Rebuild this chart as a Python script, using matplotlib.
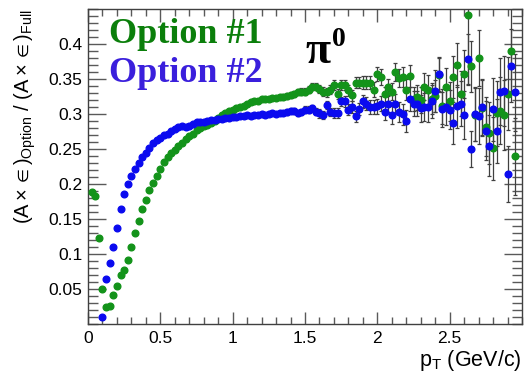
import numpy as np
import matplotlib
matplotlib.use("Agg")
import matplotlib.pyplot as plt
from matplotlib.ticker import MultipleLocator

# bin centres of the pT histogram (0.025 GeV/c wide bins)
pt = np.arange(1, 119) * 0.025

# Option #1 (green), bins 1..118
opt1 = [0.189, 0.183, 0.123, 0.050, 0.024, 0.026, 0.041, 0.054, 0.070, 0.077,
        0.091, 0.110, 0.130, 0.147, 0.164, 0.177, 0.191, 0.201, 0.212, 0.222,
        0.231, 0.238, 0.244, 0.249, 0.255, 0.259, 0.264, 0.268, 0.272, 0.277,
        0.280, 0.283, 0.284, 0.287, 0.290, 0.295, 0.298, 0.301, 0.304, 0.306,
        0.308, 0.310, 0.312, 0.314, 0.317, 0.319, 0.319, 0.321, 0.321, 0.322,
        0.323, 0.323, 0.324, 0.325, 0.326, 0.327, 0.329, 0.332, 0.332, 0.332,
        0.335, 0.339, 0.339, 0.336, 0.332, 0.331, 0.335, 0.341, 0.329, 0.341,
        0.341, 0.334, 0.327, 0.345, 0.345, 0.345, 0.345, 0.345, 0.335, 0.357,
        0.353, 0.328, 0.338, 0.332, 0.360, 0.351, 0.353, 0.335, 0.354, 0.322,
        0.324, 0.320, 0.339, 0.335, 0.322, 0.326, 0.356, 0.311, 0.339, 0.318,
        0.353, 0.370, 0.329, 0.357, 0.442, 0.368, 0.299, 0.380, 0.308, 0.282,
        0.273, 0.251, 0.301, 0.305, 0.299, 0.329, 0.390, 0.240]
err1 = [0.002, 0.002, 0.002, 0.001, 0.001, 0.001, 0.001, 0.001, 0.001, 0.001,
        0.001, 0.001, 0.001, 0.001, 0.001, 0.001, 0.001, 0.001, 0.001, 0.001,
        0.001, 0.001, 0.001, 0.001, 0.001, 0.001, 0.001, 0.001, 0.001, 0.001,
        0.001, 0.001, 0.001, 0.001, 0.001, 0.001, 0.001, 0.001, 0.001, 0.002,
        0.002, 0.002, 0.002, 0.002, 0.002, 0.002, 0.003, 0.003, 0.003, 0.003,
        0.003, 0.003, 0.003, 0.004, 0.004, 0.004, 0.004, 0.004, 0.005, 0.005,
        0.005, 0.005, 0.005, 0.006, 0.006, 0.006, 0.006, 0.007, 0.007, 0.007,
        0.007, 0.008, 0.008, 0.008, 0.008, 0.009, 0.009, 0.009, 0.010, 0.010,
        0.011, 0.011, 0.012, 0.012, 0.013, 0.013, 0.014, 0.015, 0.016, 0.017,
        0.018, 0.018, 0.019, 0.020, 0.022, 0.023, 0.024, 0.025, 0.026, 0.028,
        0.030, 0.031, 0.032, 0.034, 0.100, 0.036, 0.038, 0.040, 0.040, 0.042,
        0.044, 0.045, 0.046, 0.048, 0.050, 0.052, 0.060, 0.055]

# Option #2 (blue), bins 4..118
opt2 = [0.010, 0.064, 0.087, 0.110, 0.137, 0.164, 0.186, 0.200, 0.212, 0.222,
        0.230, 0.239, 0.245, 0.252, 0.258, 0.263, 0.266, 0.270, 0.272, 0.275,
        0.278, 0.281, 0.283, 0.282, 0.283, 0.286, 0.288, 0.288, 0.289, 0.290,
        0.291, 0.292, 0.293, 0.293, 0.294, 0.295, 0.296, 0.296, 0.297, 0.297,
        0.298, 0.297, 0.298, 0.299, 0.300, 0.299, 0.300, 0.301, 0.300, 0.302,
        0.302, 0.303, 0.305, 0.304, 0.301, 0.303, 0.306, 0.306, 0.308, 0.303,
        0.301, 0.299, 0.313, 0.303, 0.301, 0.301, 0.318, 0.318, 0.306, 0.310,
        0.297, 0.307, 0.318, 0.315, 0.310, 0.310, 0.311, 0.315, 0.303, 0.315,
        0.299, 0.315, 0.303, 0.300, 0.290, 0.322, 0.315, 0.315, 0.308, 0.310,
        0.310, 0.318, 0.333, 0.357, 0.307, 0.310, 0.306, 0.287, 0.311, 0.315,
        0.299, 0.379, 0.250, 0.300, 0.297, 0.310, 0.276, 0.255, 0.307, 0.276,
        0.332, 0.333, 0.214, 0.369, 0.331]
err2 = [0.001, 0.001, 0.001, 0.001, 0.001, 0.001, 0.001, 0.001, 0.001, 0.001,
        0.001, 0.001, 0.001, 0.001, 0.001, 0.001, 0.001, 0.001, 0.001, 0.001,
        0.001, 0.001, 0.001, 0.001, 0.001, 0.001, 0.001, 0.001, 0.001, 0.001,
        0.001, 0.001, 0.001, 0.001, 0.001, 0.001, 0.002, 0.002, 0.002, 0.002,
        0.002, 0.002, 0.002, 0.002, 0.003, 0.003, 0.003, 0.003, 0.003, 0.003,
        0.003, 0.004, 0.004, 0.004, 0.004, 0.004, 0.005, 0.005, 0.005, 0.005,
        0.006, 0.006, 0.006, 0.006, 0.007, 0.007, 0.007, 0.008, 0.008, 0.008,
        0.008, 0.009, 0.009, 0.009, 0.010, 0.010, 0.011, 0.011, 0.012, 0.012,
        0.013, 0.013, 0.014, 0.015, 0.016, 0.017, 0.018, 0.018, 0.019, 0.020,
        0.022, 0.023, 0.030, 0.024, 0.025, 0.026, 0.028, 0.030, 0.031, 0.032,
        0.034, 0.036, 0.026, 0.038, 0.040, 0.040, 0.042, 0.044, 0.045, 0.046,
        0.048, 0.050, 0.040, 0.052, 0.055]

GREEN = '#13931a'
BLUE = '#0a0aef'

fig = plt.figure(figsize=(5.28, 3.77), dpi=100)
ax = fig.add_axes([88 / 528, 53 / 377, 434 / 528, 315 / 377])

ax.errorbar(pt, opt1, yerr=err1, fmt='o', ms=4.8, color=GREEN, mec=GREEN,
            ecolor='0.25', elinewidth=0.9, capsize=1.6, capthick=0.9, zorder=3)
ax.errorbar(pt[3:], opt2, yerr=err2, fmt='o', ms=4.8, color=BLUE, mec=BLUE,
            ecolor='0.25', elinewidth=0.9, capsize=1.6, capthick=0.9, zorder=3)

ax.set_xlim(0, 3.0)
ax.set_ylim(0, 0.45)

# ROOT-like axes: ticks inside on all four sides
ax.xaxis.set_minor_locator(MultipleLocator(0.1))
ax.yaxis.set_minor_locator(MultipleLocator(0.01))
ax.tick_params(which='both', direction='in', top=True, right=True, color='0.35',
               labelsize=12.5, labelcolor='black')
ax.tick_params(axis='x', which='major', length=9, width=1.0, pad=5)
ax.tick_params(axis='x', which='minor', length=5, width=1.0)
ax.tick_params(axis='y', which='major', length=13, width=1.0, pad=4)
ax.tick_params(axis='y', which='minor', length=7, width=1.0)
ax.set_xticks([0, 0.5, 1, 1.5, 2, 2.5])
ax.set_xticklabels(['0', '0.5', '1', '1.5', '2', '2.5'], family='Liberation Sans')
yt = [0.05, 0.1, 0.15, 0.2, 0.25, 0.3, 0.35, 0.4]
ax.set_yticks(yt)
ax.set_yticklabels(['0.05', '0.1', '0.15', '0.2', '0.25', '0.3', '0.35', '0.4'],
                   family='Liberation Sans')
for s in ax.spines.values():
    s.set_color('0.25')
    s.set_linewidth(1.0)

plt.rcParams['mathtext.fontset'] = 'custom'
plt.rcParams['mathtext.rm'] = 'Liberation Sans'
plt.rcParams['mathtext.it'] = 'Liberation Sans'

fig.text(25 / 528, 1 - 9 / 377,
         r'$\mathregular{(A \times \in)_{Option}\ /\ (A \times \in)_{Full}}$',
         rotation=90, ha='center', va='top', fontsize=14.5, family='Liberation Sans')
fig.text(522 / 528, 1 - 366 / 377, r'p$\mathregular{_T}$ (GeV/c)',
         ha='right', va='baseline', fontsize=15.5, family='Liberation Sans')

# legend-like labels and particle name
fig.text(109 / 528, 1 - 43 / 377, 'Option #1', color='#0b7f0b', fontsize=26,
         family='Liberation Serif', weight='bold', va='baseline')
fig.text(109 / 528, 1 - 82 / 377, 'Option #2', color='#3a1fdc', fontsize=26,
         family='Liberation Serif', weight='bold', va='baseline')
fig.text(305 / 528, 1 - 63 / 377, 'π', color='black', fontsize=33,
         family='Liberation Serif', weight='bold', va='baseline')
fig.text(332 / 528, 1 - 46 / 377, '0', color='black', fontsize=20,
         family='Liberation Serif', weight='bold', va='baseline')

fig.savefig('out.png', dpi=100)
